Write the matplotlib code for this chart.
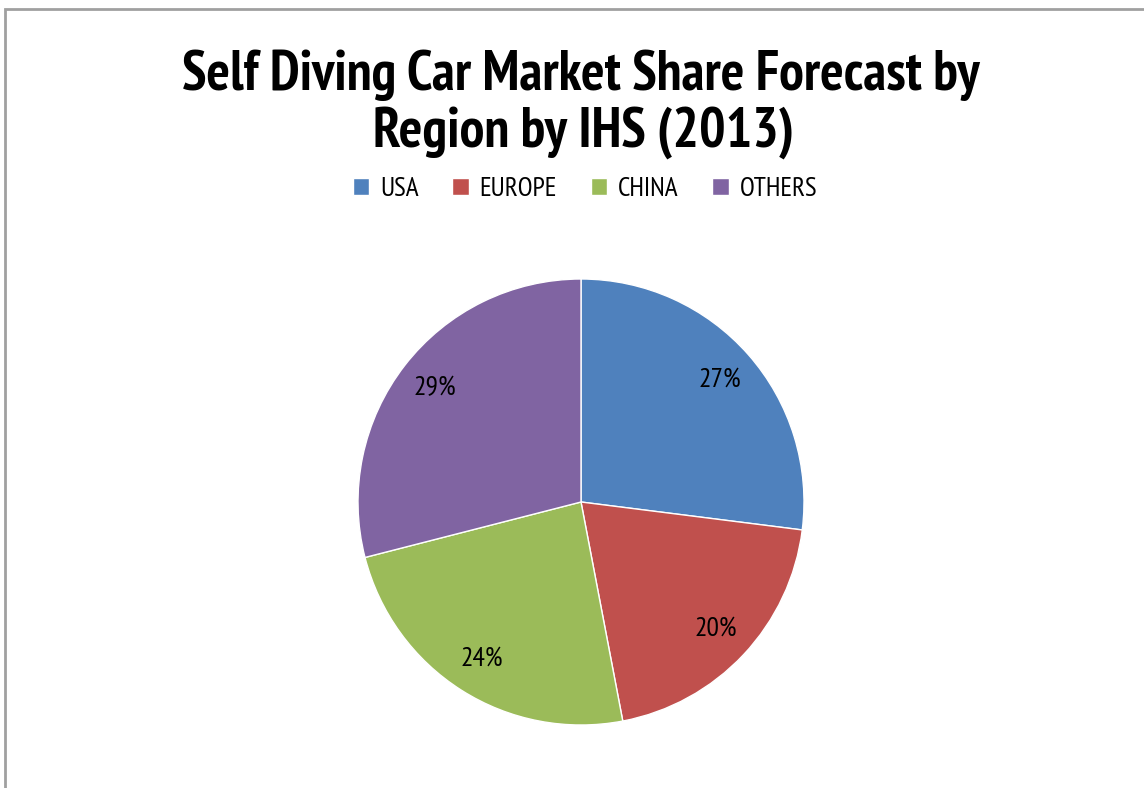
import matplotlib.pyplot as plt
from matplotlib.patches import Rectangle

# Data
regions = ['USA', 'EUROPE', 'CHINA', 'OTHERS']
shares = [27, 20, 24, 29]
colors = ['#4f81bd', '#c0504d', '#9bbb59', '#8064a2']
title_lines = ['Self Diving Car Market Share Forecast by', 'Region by IHS (2013)']

plt.rcParams['font.family'] = ['Liberation Sans Narrow', 'PT Sans Narrow', 'Roboto Condensed',
                               'Liberation Sans', 'DejaVu Sans']

W, H = 1144, 788
fig = plt.figure(figsize=(W / 100, H / 100), dpi=100)

# chart area border (only left/top visible)
fig.patches.append(Rectangle((5 / W, -0.2), 1.5, 1.2 - 9 / H,
                             transform=fig.transFigure, fill=False,
                             edgecolor='#a0a0a0', linewidth=2))

# pie axes: centre (581, 502), radius 223 px
r = 223
cx, cy = 581, 502
ax = fig.add_axes([(cx - r) / W, (H - cy - r) / H, 2 * r / W, 2 * r / H])
wedges, _, autotexts = ax.pie(shares, colors=colors, startangle=90, counterclock=False,
                              autopct='%1.0f%%', pctdistance=0.83,
                              wedgeprops=dict(edgecolor='white', linewidth=1),
                              textprops=dict(fontsize=20, color='black'))
ax.set_xlim(-1, 1)
ax.set_ylim(-1, 1)
ax.set_aspect('equal')
ax.axis('off')

for line, base, x in zip(title_lines, [90, 147], [581, 584]):
    fig.text(x / W, 1 - base / H, line, ha='center', va='baseline', fontsize=40,
             fontweight='bold')

fig.legend(wedges, regions, loc='center', bbox_to_anchor=(585 / W, 1 - 189 / H),
           ncol=4, frameon=False, fontsize=19.5, handlelength=0.6, handleheight=0.6,
           handletextpad=0.4, columnspacing=1.25)

fig.savefig('out.png', dpi=100)
